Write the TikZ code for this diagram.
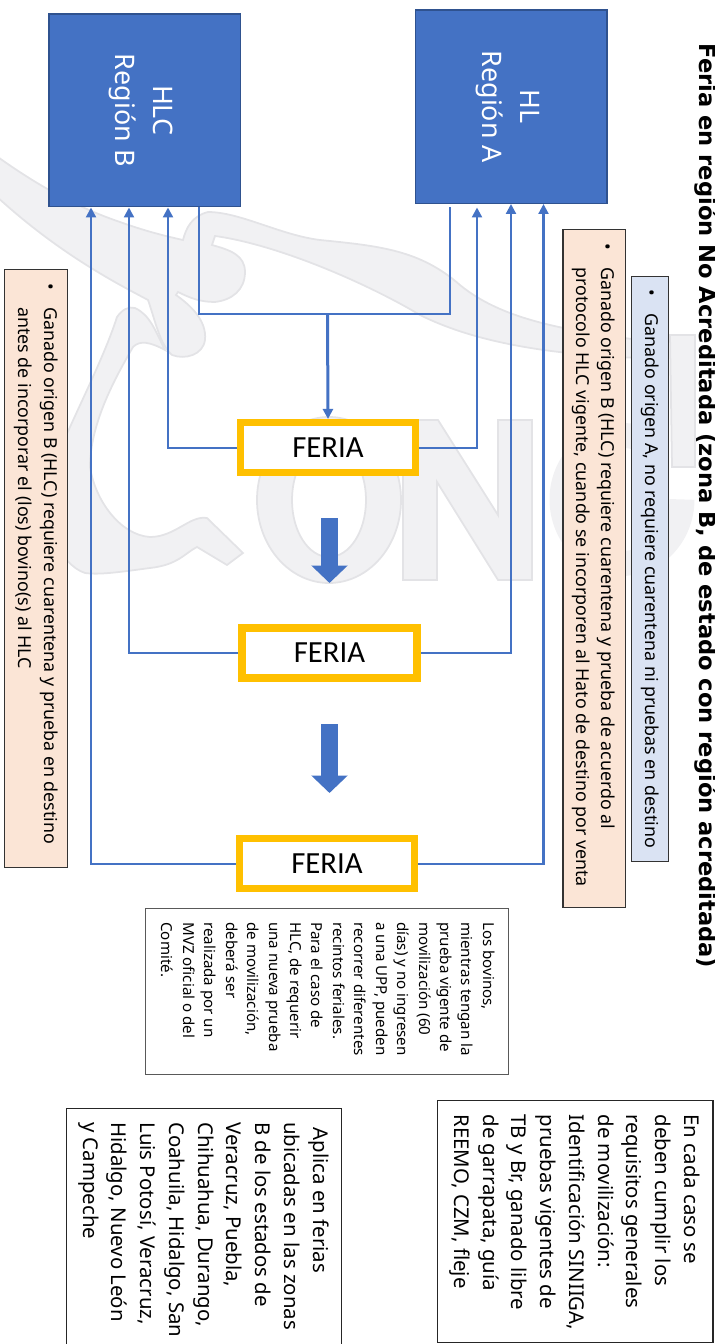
\documentclass[tikz,border=0pt]{standalone}
\usepackage{fontspec}
\usepackage{tikz}
\usetikzlibrary{arrows.meta}
\setmainfont{Noto Sans}
\newfontfamily\feriafont{Carlito}
\newfontfamily\titulofont{DejaVu Sans Bold}

\definecolor{azul}{HTML}{4472C4}
\definecolor{azulborde}{HTML}{2F528F}
\definecolor{oro}{HTML}{FFC000}
\definecolor{durazno}{HTML}{FBE5D6}
\definecolor{celeste}{HTML}{DAE3F3}
\definecolor{marca}{HTML}{F1F1F3}
\definecolor{marcaborde}{HTML}{E3E3E6}

% text laid out along the box: length, left gap, lines
\newcommand{\cuadro}[3]{\makebox[#1][l]{\hspace*{#2}\begin{tabular}{@{}l@{}}#3\end{tabular}}}
\newcommand{\vineta}[2]{\makebox[#1][l]{\hspace*{0.27cm}\makebox[0.48cm][l]{\textbullet}\begin{tabular}[t]{@{}l@{}}#2\end{tabular}}}

\tikzset{
  region/.style={rectangle,draw=azulborde,line width=0.8pt,fill=azul,text=white,rotate=-90,inner sep=0pt,align=center,
    font=\fontsize{15.3}{21.5}\selectfont},
  feria/.style={rectangle,draw=oro,line width=7.5*0.02cm,fill=white,minimum width=3.51cm,minimum height=1.0cm,inner sep=0pt,
    font=\feriafont\fontsize{17.5}{20}\selectfont},
  nota/.style={rectangle,draw=black!80,line width=0.6pt,rotate=-90,anchor=north west,inner sep=0pt,
    font=\fontsize{10.15}{14.6}\selectfont},
  caja/.style={rectangle,draw=black!85,line width=0.7pt,fill=white,rotate=-90,anchor=north west,inner sep=0pt},
  liga/.style={draw=azul,line width=2.2*0.02cm},
  flecha/.style={liga,-{Triangle[length=0.2cm,width=0.2cm]}},
  gorda/.style={draw=azul,line width=17*0.02cm,-{Triangle[length=17.5*0.02cm,width=35.5*0.02cm]}},
  sello/.style={fill=marca,draw=marcaborde,line width=1pt},
}

\begin{document}
\begin{tikzpicture}[x=0.02cm,y=-0.02cm]
\useasboundingbox (0,0) rectangle (715,1344);

% watermark
\path[sello] (-5,155) .. controls (30,180) and (70,205) .. (120,222) .. controls (145,231) and (165,236) .. (183,240)
  .. controls (186,228) and (192,216) .. (208,212) .. controls (240,212) and (280,235) .. (320,240)
  .. controls (380,246) and (420,250) .. (460,285) .. controls (500,318) and (560,330) .. (640,340)
  -- (640,358) .. controls (560,355) and (480,345) .. (420,315) .. controls (370,285) and (280,245) .. (215,236)
  -- (212,245) .. controls (230,250) and (245,255) .. (245,272) .. controls (245,290) and (232,300) .. (215,302)
  .. controls (200,302) and (190,298) .. (178,292) -- (176,295) .. controls (190,305) and (207,320) .. (205,340)
  .. controls (203,355) and (185,360) .. (172,355) .. controls (160,345) and (155,320) .. (148,300)
  .. controls (120,285) and (60,255) .. (-5,195) -- cycle;
\path[sello] (117,317) .. controls (122,310) and (128,306) .. (135,308) .. controls (150,315) and (155,330) .. (165,350)
  .. controls (150,342) and (140,340) .. (133,347) .. controls (120,370) and (90,420) .. (90,467)
  .. controls (95,500) and (120,535) .. (150,537) .. controls (175,537) and (190,515) .. (207,518)
  -- (243,553) -- (227,565) -- (197,547) .. controls (185,553) and (178,565) .. (150,568)
  .. controls (120,572) and (100,575) .. (85,573) .. controls (60,565) and (40,520) .. (45,490)
  .. controls (60,440) and (100,370) .. (117,317) -- cycle;
\path[sello,even odd rule] (329,500) ellipse [x radius=72,y radius=83] (329,500) ellipse [x radius=37,y radius=57];
\path[sello] (403,420) -- (438,420) -- (498,515) -- (498,420) -- (532,420) -- (532,580) -- (498,580) -- (437,482) -- (437,580) -- (403,580) -- cycle;
\draw[marca,line width=25*0.02cm] (652,444) arc [start angle=-60,end angle=-360,x radius=60,y radius=64];
\path[sello] (670,335) -- (695,335) -- (695,467) -- (672,467) -- cycle;

\node[region,minimum width=3.86cm,minimum height=3.83cm] (hlc) at (144.8,110.3) {\rule{0pt}{15pt}HLC\\Región B};
\node[region,minimum width=3.87cm,minimum height=3.83cm] (hl) at (511.2,106.8) {\rule{0pt}{15pt}HL\\Región A};

\node[feria] (f1) at (328,447.7) {FERIA};
\node[feria] (f2) at (329.5,653) {FERIA};
\node[feria] (f3) at (327,863.7) {FERIA};

\coordinate (b1) at (91,207.5);
\coordinate (b2) at (129,207.5);
\coordinate (b3) at (168,207.5);
\coordinate (b4) at (199,207.5);
\coordinate (a1) at (450,207);
\coordinate (a2) at (477,207.5);
\coordinate (a3) at (511,204);
\coordinate (a4) at (543.5,204);
\coordinate (union) at (327.5,314.3);

\draw[liga] (b4) |- (union) -| (a1);
\draw[flecha,line width=3*0.02cm] (union) -- (f1.north);
\draw[flecha] (f1.west) -| (b3);
\draw[flecha] (f1.east) -| (a2);
\draw[flecha] (f2.west) -| (b2);
\draw[flecha] (f2.east) -| (a3);
\draw[flecha] (f3.west) -| (b1);
\draw[flecha] (f3.east) -| (a4);

\coordinate (g1) at (329.5,518.3);
\coordinate (g2) at (329.5,583);
\coordinate (g3) at (329.5,724);
\coordinate (g4) at (329.5,793);
\draw[gorda] (g1) -- (g2);
\draw[gorda] (g3) -- (g4);

\node[nota,fill=durazno,minimum height=1.26cm] (n1) at (68.4,269.3)
  {\vineta{11.96cm}{Ganado origen B (HLC) requiere cuarentena y prueba en destino\\antes de incorporar el (los) bovino(s) al HLC}};
\node[nota,fill=durazno,minimum height=1.25cm] (n2) at (626,229.3)
  {\vineta{13.56cm}{Ganado origen B (HLC) requiere cuarentena y prueba de acuerdo al\\protocolo HLC vigente, cuando se incorporen al Hato de destino por venta}};
\node[nota,fill=celeste,minimum height=0.75cm] (n3) at (669.4,275.7)
  {\vineta{11.71cm}{Ganado origen A, no requiere cuarentena ni pruebas en destino}};

\node[rotate=-90,inner sep=0pt,font=\titulofont\fontsize{12.85}{15}\selectfont] (titulo) at (706,506)
  {Feria en región No Acreditada (zona B, de estado con región acreditada)};

\node[caja,draw=black!65,minimum height=7.26cm,font=\fontsize{8.6}{12.2}\selectfont] (c1) at (509,907.7)
  {\cuadro{3.33cm}{0.28cm}{Los bovinos,\\mientras tengan la\\prueba vigente de\\movilización (60\\días) y no ingresen\\a una UPP, pueden\\recorrer diferentes\\recintos feriales.\\Para el caso de\\HLC, de requerir\\una nueva prueba\\de movilización,\\deberá ser\\realizada por un\\MVZ oficial o del\\Comité.}};
\node[caja,minimum height=5.516cm,font=\fontsize{11.6}{16.35}\selectfont] (c2) at (713.6,1100)
  {\cuadro{4.84cm}{0.28cm}{En cada caso se\\deben cumplir los\\requisitos generales\\de movilización:\\Identificación SINIIGA,\\pruebas vigentes de\\TB y Br, ganado libre\\de garrapata, guía\\REEMO, CZM, fleje}};
\node[caja,minimum height=5.5cm,font=\fontsize{11.6}{16.35}\selectfont] (c3) at (342,1107.7)
  {\cuadro{5cm}{0.28cm}{\hspace*{0.11cm}Aplica en ferias\\ubicadas en las zonas\\B de los estados de\\Veracruz, Puebla,\\Chihuahua, Durango,\\Coahuila, Hidalgo, San\\Luis Potosí, Veracruz,\\Hidalgo, Nuevo León\\y Campeche}};
\end{tikzpicture}
\end{document}
